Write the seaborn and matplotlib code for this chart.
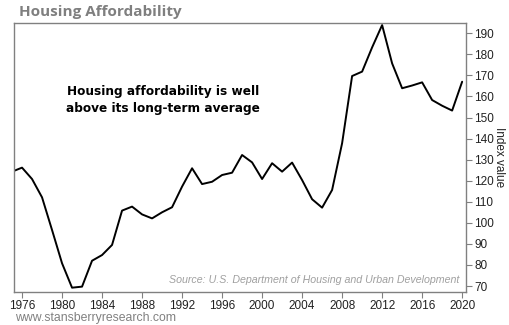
import matplotlib
matplotlib.use("Agg")
import matplotlib.pyplot as plt
import seaborn as sns
import pandas as pd

years = list(range(1975, 2021))
index_values = [124.3, 126.2, 120.8, 112.1, 96.6, 80.8, 69.2, 69.7, 82.0, 84.7,
                89.5, 105.8, 107.7, 104.0, 102.1, 105.0, 107.4, 117.2, 125.9, 118.4,
                119.5, 122.7, 123.8, 132.2, 128.7, 120.8, 128.3, 124.3, 128.6, 120.3,
                111.2, 107.2, 115.6, 137.8, 169.7, 171.8, 183.3, 193.9, 175.7, 163.9,
                165.2, 166.7, 158.3, 155.6, 153.3, 167.0]
x_ticks = list(range(1976, 2021, 4))
y_ticks = list(range(70, 191, 10))

df = pd.DataFrame({"year": years, "value": index_values})

sns.set_theme(style="white")
plt.rcParams["font.family"] = ["Liberation Sans", "DejaVu Sans"]

fig = plt.figure(figsize=(5.10, 3.25), dpi=100)
ax = fig.add_axes([0.0275, 0.1025, 0.8865, 0.8275])
sns.lineplot(data=df, x="year", y="value", ax=ax, color="black", linewidth=1.4)

ax.set_xlim(1975.2, 2020.4)
ax.set_ylim(67.3, 195)
ax.set_xticks(x_ticks)
ax.set_yticks(y_ticks)
ax.yaxis.tick_right()
ax.yaxis.set_label_position("right")
ax.tick_params(axis="both", which="both", length=4, width=0.8, color="#808080",
               labelsize=8.5, labelcolor="#222222", pad=2)
ax.tick_params(axis="y", direction="out", right=True, left=False)
ax.tick_params(axis="x", direction="out", bottom=True)
for s in ax.spines.values():
    s.set_color("#808080")
    s.set_linewidth(1.0)
ax.set_xlabel("")
ax.set_ylabel("Index value", rotation=270, labelpad=8, fontsize=8.5, color="#222222")

fig.text(0.037, 0.962, "Housing Affordability", fontsize=11, fontweight="bold",
         color="#7f7f7f", family=["Open Sans", "DejaVu Sans"], va="center", ha="left")
ax.text(0.33, 0.713, "Housing affordability is well\nabove its long-term average",
        transform=ax.transAxes, ha="center", va="center", fontsize=8.7,
        fontweight="bold", color="black", family="DejaVu Sans", linespacing=1.45)
ax.text(0.985, 0.045, "Source: U.S. Department of Housing and Urban Development",
        transform=ax.transAxes, ha="right", va="center", fontsize=7.7,
        style="italic", color="#a0a0a0")
fig.text(0.029, 0.023, "www.stansberryresearch.com", fontsize=8.8, color="#808080",
         ha="left", va="center")

fig.savefig("out.png", dpi=100)
